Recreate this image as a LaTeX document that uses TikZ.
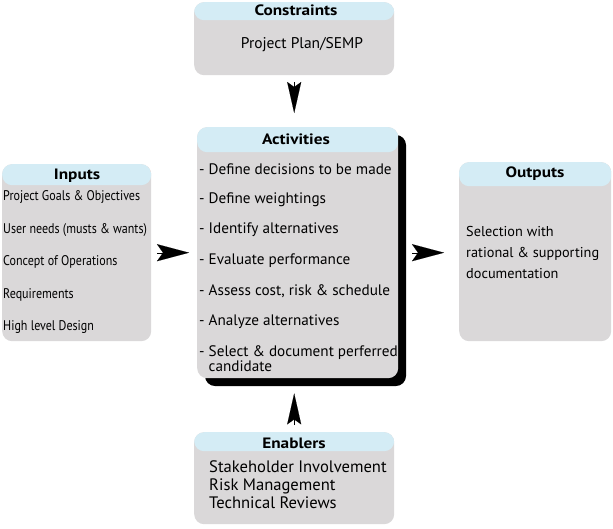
\documentclass[tikz,border=0pt]{standalone}
\usepackage{fontspec}
\setmainfont{PT Sans}
\newfontfamily\widefont[FakeStretch=1.15]{PT Sans}
\newfontfamily\narrowfont[FakeStretch=0.86]{PT Sans}
\usetikzlibrary{arrows.meta,calc}
\definecolor{hdr}{RGB}{212,236,245}
\definecolor{bodyg}{RGB}{218,216,217}
\begin{document}
\begin{tikzpicture}[x=1pt,y=-1pt,
  box/.style={draw=none,fill=bodyg,rounded corners=10pt,inner sep=0pt,anchor=north west},
  hdrband/.style={path picture={\fill[hdr] (path picture bounding box.north west) rectangle ([yshift=-#1pt]path picture bounding box.north east);}},
  title/.style={font=\widefont\bfseries\fontsize{15}{17}\selectfont,inner sep=0pt},
  item/.style={font=\fontsize{15.2}{15}\selectfont,inner sep=0pt,anchor=west},
  small/.style={font=\narrowfont\fontsize{14}{14}\selectfont,inner sep=0pt,anchor=west},
  tip/.style={line width=0.1pt,-{Stealth[length=32pt,width=17pt,inset=6pt]}},
  vtip/.style={line width=0.1pt,-{Stealth[length=31pt,width=14pt,inset=5pt]}}]
\useasboundingbox (0,0) rectangle (613,528);
\fill[white] (0,0) rectangle (613,528);
% Constraints
\node[box,minimum width=200pt,minimum height=73pt,hdrband=18] (cons) at (194,2) {};
\node[title] (consT) at (296,10) {Constraints};
\node[font=\fontsize{15.5}{16}\selectfont,inner sep=0pt] (consI) at (302,45) {Project Plan/SEMP};
% Activities
\fill[black,rounded corners=10pt] (205,135) rectangle (406,386);
\node[box,minimum width=201pt,minimum height=251pt,hdrband=25] (act) at (197,127) {};
\node[title] (actT) at (296,139) {Activities};
\node[item] (a1) at (199,169) {- Define decisions to be made};
\node[item] (a2) at (199,200) {- Define weightings};
\node[item] (a3) at (199,230) {- Identify alternatives};
\node[item] (a4) at (199,261) {- Evaluate performance};
\node[item] (a5) at (199,291) {- Assess cost, risk \& schedule};
\node[item] (a6) at (199,322) {- Analyze alternatives};
\node[item,align=left,anchor=north west,font=\fontsize{15.2}{15}\selectfont] (a7) at (199,345) {- Select \& document perferred\\\hphantom{- }candidate};
% Inputs
\node[box,minimum width=149pt,minimum height=177pt,hdrband=21] (inp) at (2,164) {};
\node[title] (inpT) at (77,176) {Inputs};
\node[small] (i1) at (3,197) {Project Goals \& Objectives};
\node[small] (i2) at (3,230) {User needs (musts \& wants)};
\node[small] (i3) at (3,262) {Concept of Operations};
\node[small] (i4) at (3,295) {Requirements};
\node[small] (i5) at (3,327) {High level Design};
% Outputs
\node[box,minimum width=152pt,minimum height=179pt,hdrband=24] (out) at (459,162) {};
\node[title] (outT) at (535,174) {Outputs};
\node[font=\fontsize{14.3}{21}\selectfont,inner sep=0pt,align=left,anchor=north west] (outI) at (466,226) {Selection with\\rational \& supporting\\documentation};
% Enablers
\node[box,minimum width=200pt,minimum height=92pt,hdrband=19] (ena) at (194,432) {};
\node[title] (enaT) at (294,443) {Enablers};
\node[font=\fontsize{16.6}{18}\selectfont,inner sep=0pt,align=left,anchor=north west] (enaI) at (209,460) {Stakeholder Involvement\\Risk Management\\Technical Reviews};
% arrows
\draw[vtip,shorten <=7pt,shorten >=14pt] (cons.south) -- (cons.south |- act.north);
\draw[vtip,shorten <=7pt,shorten >=15pt] (ena.north) -- (ena.north |- act.south);
\draw[tip,shorten <=6pt,shorten >=8pt] (inp.east) -- (inp.east -| act.west);
\draw[tip,shorten <=14pt,shorten >=15pt] (act.east) -- (act.east -| out.west);
\end{tikzpicture}
\end{document}
